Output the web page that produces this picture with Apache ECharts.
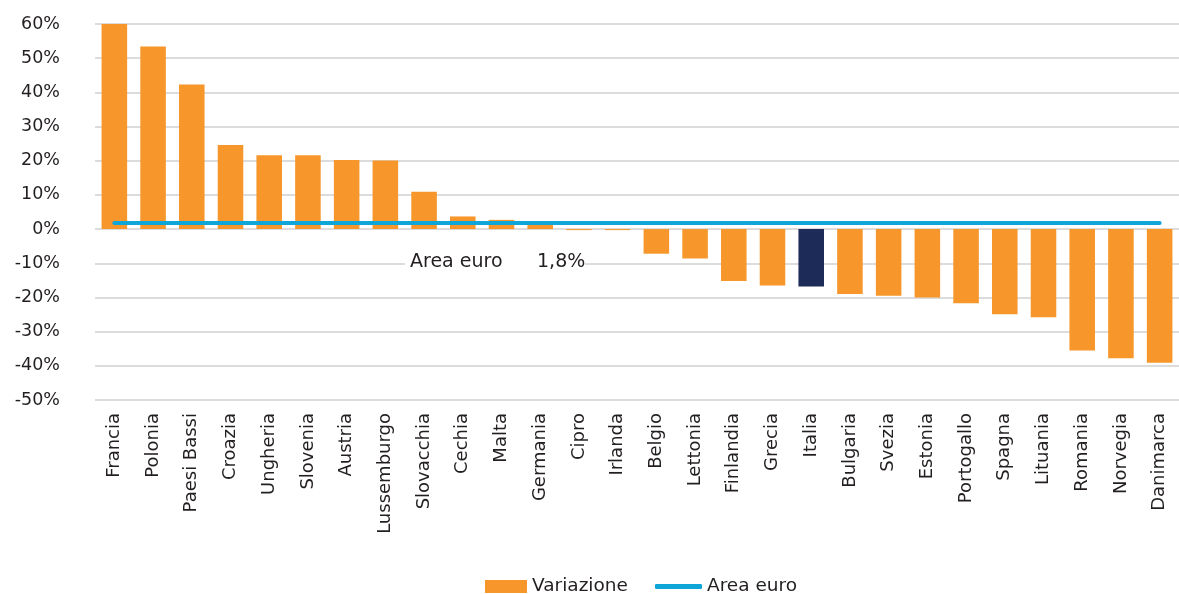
<!DOCTYPE html>
<html><head><meta charset="utf-8">
<script src="https://cdn.jsdelivr.net/npm/echarts@6/dist/echarts.min.js"></script>
<style>html,body{margin:0;padding:0;background:#fff}#c{width:1179px;height:594px}</style>
</head><body><div id="c"></div>
<script>
const categories = ["Francia","Polonia","Paesi Bassi","Croazia","Ungheria","Slovenia","Austria","Lussemburgo","Slovacchia","Cechia","Malta","Germania","Cipro","Irlanda","Belgio","Lettonia","Finlandia","Grecia","Italia","Bulgaria","Svezia","Estonia","Portogallo","Spagna","Lituania","Romania","Norvegia","Danimarca"];
const variazione = [60.0,53.4,42.3,24.6,21.6,21.6,20.2,20.1,10.9,3.7,2.7,1.3,-0.3,-0.3,-7.2,-8.6,-15.2,-16.5,-16.8,-19.0,-19.5,-20.0,-21.7,-24.9,-25.8,-35.5,-37.8,-39.1];
const areaEuroValue = 1.8;
const areaEuro = categories.map(() => areaEuroValue);
const highlight = "Italia";
const yTickValues = [-50,-40,-30,-20,-10,0,10,20,30,40,50,60];
const yTicks = {min: -50, max: 60, interval: 10};

const font = "'DejaVu Sans', sans-serif";
const txt = '#231f20';
const yLabelSize = 17.5;
const measureCtx = document.createElement('canvas').getContext('2d');
measureCtx.font = yLabelSize + "px 'DejaVu Sans', sans-serif";
function textWidth(s) { return measureCtx.measureText(s).width; }

const chart = echarts.init(document.getElementById('c'));
chart.setOption({
  animation: false,
  grid: {left: 95, right: 0, top: 24, bottom: 194, containLabel: false, outerBoundsMode: 'none'},
  xAxis: {
    type: 'category', data: categories,
    axisLine: {show: false}, axisTick: {show: false},
    axisLabel: {rotate: 90, fontSize: 18, color: txt, fontFamily: font, margin: 13, interval: 0}
  },
  yAxis: {
    type: 'value', min: yTicks.min, max: yTicks.max, interval: yTicks.interval,
    axisLine: {show: false}, axisTick: {show: false},
    splitLine: {lineStyle: {color: '#d0d0d0', width: 1.5}},
    axisLabel: {show: false}
  },
  legend: [
    {
      left: 480, top: 572, itemWidth: 42, itemHeight: 13,
      textStyle: {fontSize: 18.5, color: txt, fontFamily: font},
      data: [{name: 'Variazione', icon: 'rect'}]
    },
    {
      left: 650, top: 572, itemWidth: 47, itemHeight: 5,
      textStyle: {fontSize: 18.5, color: txt, fontFamily: font},
      data: [{name: 'Area euro', icon: 'roundRect'}]
    }
  ],
  series: [
    {
      name: 'Variazione', type: 'bar', barCategoryGap: '34%',
      data: variazione.map((v, i) => ({value: v, itemStyle: {color: categories[i] === highlight ? '#1C2B57' : '#F7962A'}})),
      itemStyle: {color: '#F7962A'}
    },
    {
      name: 'Area euro', type: 'line', data: areaEuro, symbol: 'none',
      lineStyle: {color: '#0EA5D9', width: 4, cap: 'round'}, itemStyle: {color: '#0EA5D9'}
    },
    {
      name: 'yLabels', type: 'custom', silent: true, clip: false,
      data: yTickValues.map(v => [0, v]),
      renderItem: function (params, api) {
        const v = api.value(1);
        const pt = api.coord([0, v]);
        const band = api.size([1, 0])[0];
        const label = v + '%';
        const rightEdge = pt[0] - band / 2 - 35;
        return {
          type: 'text',
          x: rightEdge - textWidth(label),
          y: pt[1],
          style: {
            text: label, align: 'left', verticalAlign: 'middle',
            fill: txt, fontSize: yLabelSize, fontFamily: font
          }
        };
      }
    }
  ],
  graphic: [
    {type: 'rect', left: 405, top: 250, shape: {width: 180, height: 26}, style: {fill: '#fff'}, z: 10},
    {type: 'text', left: 410, top: 253, style: {text: 'Area euro', fontSize: 19, fill: txt, fontFamily: font}, z: 11},
    {type: 'text', left: 537, top: 253, style: {text: '1,8%', fontSize: 19, fill: txt, fontFamily: font}, z: 11}
  ]
});
</script></body></html>
